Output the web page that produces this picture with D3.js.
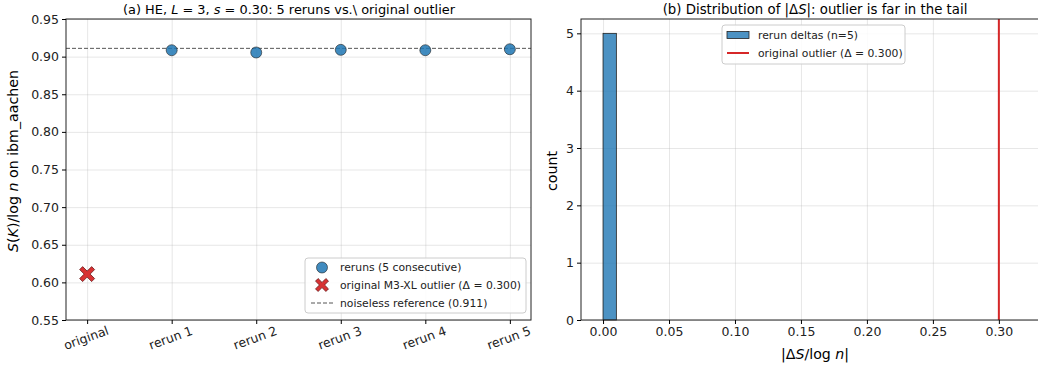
<!DOCTYPE html>
<html>
<head>
<meta charset="utf-8">
<script src="https://cdn.jsdelivr.net/npm/d3@7"></script>
<style>
  body { margin: 0; background: #fff; }
  svg { font-family: "DejaVu Sans", sans-serif; }
  .grid line { stroke: #b0b0b0; stroke-opacity: 0.3; }
  .grid .domain { display: none; }
</style>
</head>
<body>
<svg id="chart" width="1038" height="367"></svg>
<script>
const CATEGORIES = ["original", "rerun 1", "rerun 2", "rerun 3", "rerun 4", "rerun 5"];
const RERUN_VALUES = [0.9085, 0.9055, 0.909, 0.9085, 0.9098];
const ORIGINAL_VALUE = 0.611;
const REFERENCE_VALUE = 0.911;
const DELTA_BINS = [{ x0: 0, x1: 0.0101, count: 5 }];
const OUTLIER_DELTA = 0.300;
const LEFT_Y_TICKS = [0.55, 0.60, 0.65, 0.70, 0.75, 0.80, 0.85, 0.90, 0.95];
const RIGHT_X_TICKS = [0, 0.05, 0.10, 0.15, 0.20, 0.25, 0.30];
const RIGHT_Y_TICKS = [0, 1, 2, 3, 4, 5];

const BLUE = "#1f77b4";
const RED = "#d62728";
const svg = d3.select("#chart");

// ---- panel (a)
const A = { left: 66, right: 531, top: 19, bottom: 320 };
const xA = d3.scaleLinear().domain([-0.25, 5.25]).range([A.left, A.right]);
const yA = d3.scaleLinear().domain([0.55, 0.95]).range([A.bottom, A.top]);

const gA = svg.append("g");
gA.append("g").attr("class", "grid")
  .attr("transform", `translate(0,${A.bottom})`)
  .call(d3.axisBottom(xA).tickValues(d3.range(6)).tickSize(-(A.bottom - A.top)).tickFormat(""));
gA.append("g").attr("class", "grid")
  .attr("transform", `translate(${A.left},0)`)
  .call(d3.axisLeft(yA).tickValues(LEFT_Y_TICKS).tickSize(-(A.right - A.left)).tickFormat(""));

gA.append("line")
  .attr("x1", A.left).attr("x2", A.right)
  .attr("y1", yA(REFERENCE_VALUE)).attr("y2", yA(REFERENCE_VALUE))
  .attr("stroke", "#555").attr("stroke-width", 1).attr("stroke-dasharray", "4,2");

gA.selectAll(".rerun").data(RERUN_VALUES).join("circle")
  .attr("class", "rerun")
  .attr("cx", (d, i) => xA(i + 1)).attr("cy", d => yA(d)).attr("r", 5.5)
  .attr("fill", BLUE).attr("fill-opacity", 0.85)
  .attr("stroke", "#222").attr("stroke-width", 0.6);

function xMarker(g, cx, cy, s) {
  // filled "X" like matplotlib's 'X' marker
  const a = s, b = s * 0.4;
  const pts = [[-a + b, -a], [0, -b], [a - b, -a], [a, -a + b], [b, 0], [a, a - b], [a - b, a], [0, b], [-a + b, a], [-a, a - b], [-b, 0], [-a, -a + b]];
  g.append("path")
    .attr("d", "M" + pts.map(p => [cx + p[0], cy + p[1]].join(",")).join("L") + "Z")
    .attr("fill", RED).attr("fill-opacity", 0.95)
    .attr("stroke", "#5a1010").attr("stroke-width", 0.7);
}
xMarker(gA, xA(0), yA(ORIGINAL_VALUE), 7.5);

gA.append("rect").attr("x", A.left).attr("y", A.top)
  .attr("width", A.right - A.left).attr("height", A.bottom - A.top)
  .attr("fill", "none").attr("stroke", "#222").attr("stroke-width", 1);

const yAxisA = gA.append("g").attr("transform", `translate(${A.left},0)`)
  .call(d3.axisLeft(yA).tickValues(LEFT_Y_TICKS).tickFormat(d3.format(".2f")).tickSize(4));
yAxisA.select(".domain").remove();
yAxisA.selectAll("text").attr("font-size", 12.5).attr("fill", "#222").attr("font-family", "DejaVu Sans");

const xAxisA = gA.append("g").attr("transform", `translate(0,${A.bottom})`)
  .call(d3.axisBottom(xA).tickValues(d3.range(6)).tickFormat(i => CATEGORIES[i]).tickSize(4));
xAxisA.select(".domain").remove();
xAxisA.selectAll("text")
  .attr("font-size", 12.5).attr("fill", "#222").attr("font-family", "DejaVu Sans")
  .attr("text-anchor", "middle").attr("dy", null).attr("y", 0)
  .attr("transform", "translate(0,22) rotate(-20)");

svg.append("text").attr("x", 289).attr("y", 14).attr("text-anchor", "middle").attr("font-size", 12.9)
  .html('(a) HE, <tspan font-style="italic">L</tspan> = 3, <tspan font-style="italic">s</tspan> = 0.30: 5 reruns vs.\\ original outlier');

svg.append("text").attr("transform", `translate(18,161) rotate(-90)`)
  .attr("text-anchor", "middle").attr("font-size", 14.2)
  .html('<tspan font-style="italic">S</tspan>(<tspan font-style="italic">K</tspan>)/log <tspan font-style="italic">n</tspan> on ibm_aachen');

// legend (a)
const lgA = svg.append("g").attr("transform", "translate(305,258)");
lgA.append("rect").attr("width", 221).attr("height", 55).attr("rx", 3)
  .attr("fill", "#fff").attr("fill-opacity", 0.85).attr("stroke", "#ccc");
lgA.append("circle").attr("cx", 17).attr("cy", 9.5).attr("r", 5.5)
  .attr("fill", BLUE).attr("fill-opacity", 0.85).attr("stroke", "#222").attr("stroke-width", 0.6);
xMarker(lgA, 17, 27, 6.5);
lgA.append("line").attr("x1", 6).attr("x2", 28).attr("y1", 45).attr("y2", 45)
  .attr("stroke", "#555").attr("stroke-dasharray", "4,2");
const lgAText = ["reruns (5 consecutive)", "original M3-XL outlier (Δ = 0.300)", "noiseless reference (0.911)"];
lgA.selectAll(".lt").data(lgAText).join("text").attr("class", "lt")
  .attr("x", 35).attr("y", (d, i) => 13 + i * 18).attr("font-size", 10.8).attr("fill", "#222").text(d => d);

// ---- panel (b), right edge runs past the picture
const B = { left: 581, right: 1049, top: 19, bottom: 320 };
const xB = d3.scaleLinear().domain([-0.0167, 0.338]).range([B.left, B.right]);
const yB = d3.scaleLinear().domain([0, 5.25]).range([B.bottom, B.top]);

const gB = svg.append("g");
gB.append("g").attr("class", "grid")
  .attr("transform", `translate(0,${B.bottom})`)
  .call(d3.axisBottom(xB).tickValues(RIGHT_X_TICKS).tickSize(-(B.bottom - B.top)).tickFormat(""));
gB.append("g").attr("class", "grid")
  .attr("transform", `translate(${B.left},0)`)
  .call(d3.axisLeft(yB).tickValues(RIGHT_Y_TICKS).tickSize(-(B.right - B.left)).tickFormat(""));

gB.selectAll(".bar").data(DELTA_BINS).join("rect")
  .attr("class", "bar")
  .attr("x", d => xB(d.x0)).attr("width", d => xB(d.x1) - xB(d.x0))
  .attr("y", d => yB(d.count)).attr("height", d => yB(0) - yB(d.count))
  .attr("fill", BLUE).attr("fill-opacity", 0.8).attr("stroke", "#222").attr("stroke-width", 0.8);

gB.append("line").attr("x1", xB(OUTLIER_DELTA)).attr("x2", xB(OUTLIER_DELTA))
  .attr("y1", B.top).attr("y2", B.bottom).attr("stroke", RED).attr("stroke-width", 2);

gB.append("rect").attr("x", B.left).attr("y", B.top)
  .attr("width", B.right - B.left).attr("height", B.bottom - B.top)
  .attr("fill", "none").attr("stroke", "#222").attr("stroke-width", 1);

const yAxisB = gB.append("g").attr("transform", `translate(${B.left},0)`)
  .call(d3.axisLeft(yB).tickValues(RIGHT_Y_TICKS).tickFormat(d3.format("d")).tickSize(4));
yAxisB.select(".domain").remove();
yAxisB.selectAll("text").attr("font-size", 12.5).attr("fill", "#222").attr("font-family", "DejaVu Sans");

const xAxisB = gB.append("g").attr("transform", `translate(0,${B.bottom})`)
  .call(d3.axisBottom(xB).tickValues(RIGHT_X_TICKS).tickFormat(d3.format(".2f")).tickSize(4));
xAxisB.select(".domain").remove();
xAxisB.selectAll("text").attr("font-size", 12.5).attr("fill", "#222").attr("font-family", "DejaVu Sans");

const midB = (B.left + B.right) / 2;
svg.append("text").attr("x", midB).attr("y", 14).attr("text-anchor", "middle").attr("font-size", 13.3)
  .html('(b) Distribution of |Δ<tspan font-style="italic">S</tspan>|: outlier is far in the tail');
svg.append("text").attr("x", midB).attr("y", 359).attr("text-anchor", "middle").attr("font-size", 14.2)
  .html('|Δ<tspan font-style="italic">S</tspan>/log <tspan font-style="italic">n</tspan>|');
svg.append("text").attr("transform", `translate(557,171) rotate(-90)`)
  .attr("text-anchor", "middle").attr("font-size", 14.2).text("count");

// legend (b)
const lgB = svg.append("g").attr("transform", "translate(722,25)");
lgB.append("rect").attr("width", 183).attr("height", 39).attr("rx", 3)
  .attr("fill", "#fff").attr("fill-opacity", 0.85).attr("stroke", "#ccc");
lgB.append("rect").attr("x", 5).attr("y", 6.5).attr("width", 22).attr("height", 7)
  .attr("fill", BLUE).attr("fill-opacity", 0.8).attr("stroke", "#222").attr("stroke-width", 0.8);
lgB.append("line").attr("x1", 5).attr("x2", 27).attr("y1", 28).attr("y2", 28)
  .attr("stroke", RED).attr("stroke-width", 2);
const lgBText = ["rerun deltas (n=5)", "original outlier (Δ = 0.300)"];
lgB.selectAll(".lt").data(lgBText).join("text").attr("class", "lt")
  .attr("x", 36).attr("y", (d, i) => 14 + i * 18).attr("font-size", 10.8).attr("fill", "#222").text(d => d);
</script>
</body>
</html>
